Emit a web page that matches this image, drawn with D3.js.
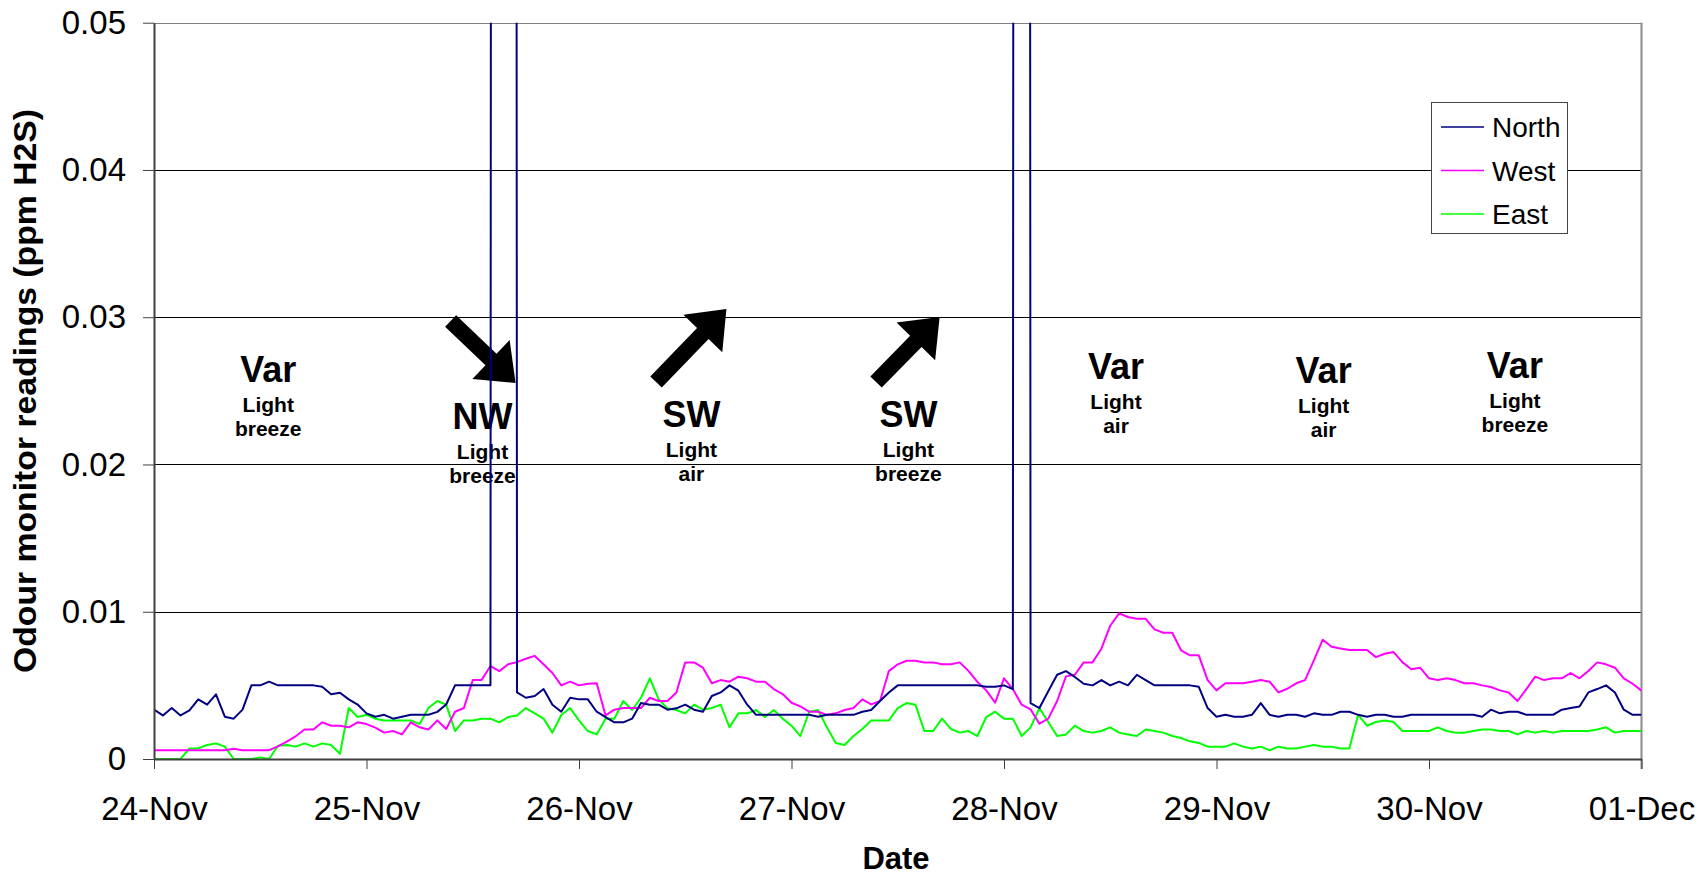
<!DOCTYPE html>
<html><head><meta charset="utf-8">
<script src="https://cdn.jsdelivr.net/npm/d3@7"></script>
<style>
body{margin:0;background:#fff}
svg{display:block}
text{font-family:"Liberation Sans",Arial,Helvetica,sans-serif;fill:#000}
</style>
</head><body>
<svg id="chart" width="1701" height="878"></svg>
<script>
// ---------------- data ----------------
const startDate = "2007-11-24T00:00:00Z";           // first hourly reading
const tickDates = ["2007-11-24","2007-11-25","2007-11-26","2007-11-27","2007-11-28","2007-11-29","2007-11-30","2007-12-01"];
const tickLabels = ["24-Nov","25-Nov","26-Nov","27-Nov","28-Nov","29-Nov","30-Nov","01-Dec"];
const yTickValues = [0, 0.01, 0.02, 0.03, 0.04, 0.05];
const yTickLabels = ["0", "0.01", "0.02", "0.03", "0.04", "0.05"];
const seriesNames = ["North", "West", "East"];

// hourly readings, ppm H2S (1 = off-scale reading)
const north = [
0.00335,0.00296,0.00346,0.00296,0.0033,0.00405,0.00369,0.00439,0.00287,0.00274,
0.00335,0.005,0.005,0.00525,0.005,0.005,0.005,0.005,0.005,0.0049,
0.0044,0.0045,0.00405,0.0037,0.0031,0.00287,0.003,0.00274,0.00287,0.003,
0.003,0.003,0.0032,0.0037,0.005,0.005,0.005,0.005,0.005,1,
1,0.00452,0.00416,0.00428,0.00475,0.00369,0.00321,0.00416,0.00405,0.00405,
0.00321,0.00285,0.00249,0.00249,0.00274,0.0038,0.00369,0.00369,0.00335,0.00344,
0.00369,0.00335,0.00321,0.00428,0.00452,0.005,0.00464,0.00369,0.003,0.003,
0.003,0.003,0.003,0.003,0.003,0.00287,0.003,0.003,0.003,0.003,
0.00321,0.00333,0.00394,0.00452,0.005,0.005,0.005,0.005,0.005,0.005,
0.005,0.005,0.005,0.005,0.0049,0.0049,0.005,0.00475,1,0.0038,
0.00346,0.0046,0.00572,0.00597,0.00557,0.00511,0.005,0.00536,0.005,0.00525,
0.005,0.00572,0.00536,0.005,0.005,0.005,0.005,0.005,0.0049,0.00346,
0.00287,0.003,0.00287,0.00287,0.003,0.0038,0.003,0.00287,0.003,0.003,
0.00287,0.0031,0.003,0.003,0.00321,0.00321,0.003,0.00287,0.003,0.003,
0.00287,0.00287,0.003,0.003,0.003,0.003,0.003,0.003,0.003,0.003,
0.00287,0.00335,0.0031,0.00321,0.00321,0.003,0.003,0.003,0.003,0.00335,
0.00346,0.00357,0.00452,0.00475,0.005,0.00452,0.00335,0.003,0.003];

const west = [
0.0006,0.0006,0.0006,0.0006,0.0006,0.0006,0.0006,0.0006,0.0006,0.0007,
0.0006,0.0006,0.0006,0.0006,0.00086,0.00118,0.00154,0.002,0.002,0.00249,
0.00226,0.00226,0.00215,0.00249,0.00237,0.00213,0.00179,0.0019,0.00167,0.00249,
0.00215,0.002,0.00262,0.00204,0.00321,0.00346,0.00536,0.00536,0.00631,0.00597,
0.00643,0.00658,0.00681,0.007,0.00643,0.00584,0.005,0.00525,0.005,0.00511,
0.00514,0.00296,0.00335,0.00346,0.00346,0.00346,0.00416,0.00394,0.00394,0.00452,
0.00656,0.00656,0.0062,0.00514,0.00536,0.00525,0.00559,0.00548,0.00525,0.00525,
0.00475,0.00441,0.00382,0.00357,0.00321,0.00321,0.003,0.0031,0.00333,0.00346,
0.00405,0.00371,0.00394,0.00597,0.00643,0.00667,0.00667,0.00656,0.00656,0.00643,
0.00643,0.00656,0.00597,0.00523,0.00466,0.00382,0.00548,0.00475,0.00369,0.00337,
0.0024,0.00274,0.00394,0.00561,0.00572,0.00656,0.00656,0.00749,0.00905,0.00989,
0.00964,0.00952,0.00952,0.0088,0.00857,0.00857,0.00738,0.00704,0.00704,0.00536,
0.00466,0.00514,0.00514,0.00514,0.00525,0.00536,0.00525,0.00452,0.00477,0.00514,
0.00536,0.0067,0.0081,0.00762,0.00751,0.0074,0.0074,0.0074,0.00692,0.00715,
0.00726,0.00658,0.00609,0.0062,0.00548,0.00536,0.00548,0.00536,0.00514,0.00514,
0.005,0.00489,0.00466,0.00452,0.00394,0.00475,0.00559,0.00536,0.00548,0.00548,
0.00584,0.00548,0.00597,0.00656,0.00643,0.0062,0.00548,0.00511,0.00464];

const east = [
0,0,0,0,0.00072,0.00072,0.00095,0.00106,0.00084,0,
0,0,0.00011,0,0.0009,0.00095,0.00084,0.00106,0.00084,0.00106,
0.00095,0.00036,0.00346,0.00285,0.003,0.00274,0.00262,0.00262,0.00262,0.00262,
0.00237,0.00346,0.00394,0.00369,0.0019,0.00262,0.00262,0.00274,0.00274,0.00249,
0.00285,0.00296,0.00346,0.0031,0.00274,0.00179,0.00299,0.00346,0.00262,0.0019,
0.00167,0.00274,0.00274,0.00394,0.00333,0.00416,0.00548,0.00405,0.00344,0.00333,
0.0031,0.00369,0.00335,0.00346,0.00369,0.00215,0.0031,0.0031,0.00333,0.00285,
0.00333,0.00274,0.00226,0.00156,0.00321,0.00333,0.00215,0.00109,0.00095,0.00156,
0.00204,0.00262,0.00262,0.00262,0.00346,0.0038,0.00369,0.0019,0.0019,0.00274,
0.00204,0.00179,0.0019,0.00156,0.00285,0.00321,0.00274,0.00274,0.00156,0.00215,
0.00346,0.00251,0.00156,0.00167,0.00226,0.0019,0.00179,0.0019,0.00215,0.00179,
0.00167,0.00156,0.002,0.0019,0.00179,0.00156,0.00143,0.0012,0.00109,0.00084,
0.00084,0.00084,0.00106,0.00084,0.00072,0.00084,0.00059,0.00084,0.00072,0.00072,
0.00084,0.00095,0.00084,0.00084,0.00072,0.00072,0.003,0.00226,0.00251,0.00262,
0.00251,0.0019,0.0019,0.0019,0.0019,0.00215,0.0019,0.00179,0.00179,0.0019,
0.002,0.002,0.0019,0.0019,0.00167,0.0019,0.00179,0.0019,0.00179,0.0019,
0.0019,0.0019,0.0019,0.002,0.00215,0.00179,0.0019,0.0019,0.0019];

// wind annotations (anchor in hours since start, ppm)
const windDir = ["Var", "NW", "SW", "SW", "Var", "Var", "Var"];
const windStrength = [["Light","breeze"],["Light","breeze"],["Light","air"],["Light","breeze"],["Light","air"],["Light","air"],["Light","breeze"]];
const windHour = [12.9, 37.1, 60.7, 85.2, 108.65, 132.1, 153.7];
const windPpm = [0.02562, 0.02241, 0.02255, 0.02255, 0.0258, 0.02553, 0.02587];
const arrowFromHour = [33.5, 56.7, 81.55];
const arrowFromPpm = [0.02974, 0.0256, 0.0256];
const arrowToHour = [40.84, 64.65, 88.73];
const arrowToPpm = [0.02553, 0.03056, 0.03001];

// ---------------- chart ----------------
const colors = {North:"#000080", West:"#FF00FF", East:"#00FF00"};
const svg = d3.select("#chart");
const L = 154, R = 1641.5, T = 22.7, B = 759;

const t0 = new Date(startDate);
const x = d3.scaleUtc().domain([new Date(tickDates[0]+"T00:00:00Z"), new Date(tickDates[tickDates.length-1]+"T00:00:00Z")]).range([L, R]);
const y = d3.scaleLinear().domain([0, 0.05]).range([B, T]);
const hourX = h => x(t0.getTime() + h*3600e3);

svg.append("rect").attr("width",1701).attr("height",878).attr("fill","#fff");

// gridlines
svg.append("g").selectAll("line").data(yTickValues.filter(v => v > 0 && v < 0.05)).join("line")
  .attr("x1", L).attr("x2", R).attr("y1", d => Math.round(y(d))+0.5).attr("y2", d => Math.round(y(d))+0.5)
  .attr("stroke", "#000").attr("stroke-width", 1);
// top & right border
svg.append("line").attr("x1", L).attr("x2", R).attr("y1", Math.round(T)+0.5).attr("y2", Math.round(T)+0.5)
  .attr("stroke", "#808080").attr("stroke-width", 1.2);
svg.append("line").attr("x1", R).attr("x2", R).attr("y1", T).attr("y2", B+10)
  .attr("stroke", "#8a8a8a").attr("stroke-width", 2);

// annotations
const ann = svg.append("g");
windDir.forEach((d, i) => {
  const cx = hourX(windHour[i]), by = y(windPpm[i]);
  ann.append("text").attr("x", cx).attr("y", by).attr("text-anchor","middle")
    .attr("font-size", 36).attr("font-weight","bold").text(d);
  windStrength[i].forEach((s, j) => {
    ann.append("text").attr("x", cx).attr("y", by + 30 + j*24).attr("text-anchor","middle")
      .attr("font-size", 21).attr("font-weight","bold").text(s);
  });
});
arrowFromHour.forEach((h, i) => {
  const x0 = hourX(h), y0 = y(arrowFromPpm[i]);
  const x1 = hourX(arrowToHour[i]), y1 = y(arrowToPpm[i]);
  const dx = x1-x0, dy = y1-y0, len = Math.hypot(dx,dy);
  const ux = dx/len, uy = dy/len, nx = -uy, ny = ux;
  const sw = 8, hw = 27, hl = 34;
  const bx = x1 - ux*hl, by = y1 - uy*hl;
  const pts = [[x0+nx*sw, y0+ny*sw],[bx+nx*sw, by+ny*sw],[bx+nx*hw, by+ny*hw],[x1,y1],
               [bx-nx*hw, by-ny*hw],[bx-nx*sw, by-ny*sw],[x0-nx*sw, y0-ny*sw]];
  ann.append("polygon").attr("points", pts.map(p => p.join(",")).join(" ")).attr("fill","#000");
});

// series lines
svg.append("clipPath").attr("id","plotclip").append("rect")
  .attr("x", L).attr("y", T).attr("width", R-L).attr("height", B-T);
const line = d3.line().x((d,i) => hourX(i)).y(d => y(d));
const seriesData = [north, west, east];
const lines = svg.append("g").attr("clip-path","url(#plotclip)");
[2,1,0].forEach(k => {
  lines.append("path").attr("d", line(seriesData[k])).attr("fill","none")
    .attr("stroke", colors[seriesNames[k]]).attr("stroke-width", 2)
    .attr("stroke-linejoin","round");
});

// axes
const yAxis = d3.axisLeft(y).tickValues(yTickValues).tickFormat((d,i) => yTickLabels[i])
  .tickSize(11).tickSizeOuter(0).tickPadding(17);
const gy = svg.append("g").attr("transform", `translate(${L},0)`).call(yAxis);
gy.select(".domain").attr("stroke","#404040").attr("stroke-width",2);
gy.selectAll(".tick line").attr("stroke","#404040");
gy.selectAll(".tick text").attr("font-size",33).attr("font-family",null);

const xAxis = d3.axisBottom(x).tickValues(tickDates.map(d => new Date(d+"T00:00:00Z")))
  .tickFormat((d,i) => tickLabels[i]).tickSize(10).tickSizeOuter(0).tickPadding(27.6);
const gx = svg.append("g").attr("transform", `translate(0,${B})`).call(xAxis);
gx.select(".domain").attr("stroke","#404040").attr("stroke-width",2);
gx.selectAll(".tick line").attr("stroke","#404040");
gx.selectAll(".tick text").attr("font-size",33).attr("font-family",null);

// axis titles
svg.append("text").attr("transform","translate(36,391) rotate(-90)").attr("text-anchor","middle")
  .attr("font-size",31).attr("font-weight","bold").attr("textLength",564).attr("lengthAdjust","spacingAndGlyphs")
  .text("Odour monitor readings (ppm H2S)");
svg.append("text").attr("x",896).attr("y",869).attr("text-anchor","middle")
  .attr("font-size",31).attr("font-weight","bold").text("Date");

// legend
const lg = svg.append("g");
lg.append("rect").attr("x",1431.5).attr("y",102.5).attr("width",136).attr("height",131)
  .attr("fill","#fff").attr("stroke","#444").attr("stroke-width",1);
seriesNames.forEach((n, i) => {
  const cy = 127 + i*43.5;
  lg.append("line").attr("x1",1441).attr("x2",1484).attr("y1",cy).attr("y2",cy)
    .attr("stroke",colors[n]).attr("stroke-width",1.3);
  lg.append("text").attr("x",1492).attr("y",cy+10).attr("font-size",28).text(n);
});
</script>
</body></html>
